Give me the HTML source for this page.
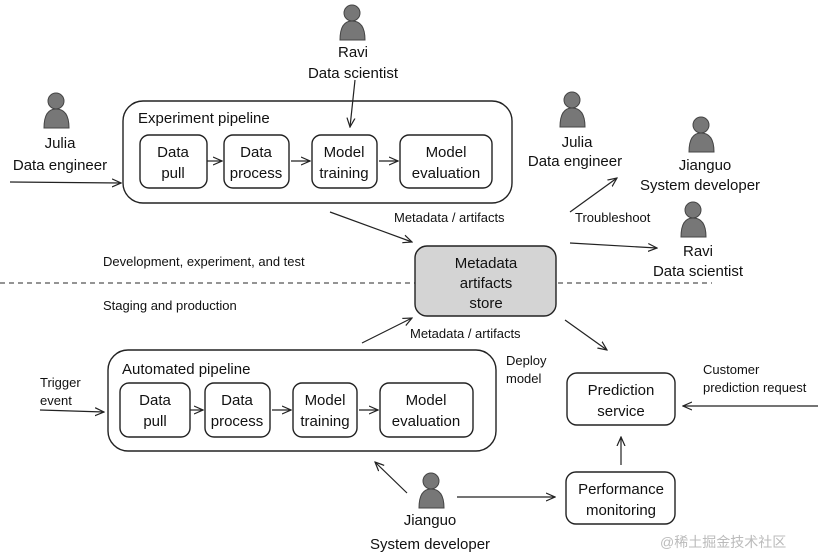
<!DOCTYPE html>
<html><head><meta charset="utf-8"><style>
body{margin:0;background:#fff}
svg{display:block}
.h{font-family:"Liberation Sans",sans-serif;font-size:15px;fill:#111;text-anchor:middle}
.s{font-family:"Liberation Sans",sans-serif;font-size:13px;fill:#111}
.b{fill:#fff;stroke:#222;stroke-width:1.4}
.a{stroke:#222;stroke-width:1.2;fill:none}
.p{fill:#777;stroke:#444;stroke-width:1}
</style></head><body>
<svg width="819" height="558" viewBox="0 0 819 558" xmlns="http://www.w3.org/2000/svg">
<defs><marker id="m" viewBox="0 0 10 10" refX="9" refY="5" markerWidth="10" markerHeight="10" orient="auto" markerUnits="userSpaceOnUse"><path d="M0,1 L9,5 L0,9" fill="none" stroke="#222" stroke-width="1.2"/></marker></defs>

<!-- persons -->
<g class="p">
<circle cx="352" cy="13" r="8"/><path d="M340,40 Q340,21 352,21 Q365,21 365,40 Z"/>
<circle cx="56" cy="101" r="8"/><path d="M44,128 Q44,109 56,109 Q69,109 69,128 Z"/>
<circle cx="572" cy="100" r="8"/><path d="M560,127 Q560,108 572,108 Q585,108 585,127 Z"/>
<circle cx="701" cy="125" r="8"/><path d="M689,152 Q689,133 701,133 Q714,133 714,152 Z"/>
<circle cx="693" cy="210" r="8"/><path d="M681,237 Q681,218 693,218 Q706,218 706,237 Z"/>
<circle cx="431" cy="481" r="8"/><path d="M419,508 Q419,489 431,489 Q444,489 444,508 Z"/>
</g>
<text class="h" x="353" y="57">Ravi</text><text class="h" x="353" y="78">Data scientist</text>
<text class="h" x="60" y="148">Julia</text><text class="h" x="60" y="170">Data engineer</text>
<text class="h" x="577" y="147">Julia</text><text class="h" x="575" y="166">Data engineer</text>
<text class="h" x="705" y="170">Jianguo</text><text class="h" x="700" y="190">System developer</text>
<text class="h" x="698" y="256">Ravi</text><text class="h" x="698" y="276">Data scientist</text>
<text class="h" x="430" y="525">Jianguo</text><text class="h" x="430" y="549">System developer</text>

<!-- dashed line -->
<line x1="0" y1="283" x2="712" y2="283" stroke="#555" stroke-width="1.2" stroke-dasharray="5,4"/>

<!-- experiment pipeline -->
<rect class="b" x="123" y="101" width="389" height="102" rx="20"/>
<text class="h" x="138" y="123" style="text-anchor:start">Experiment pipeline</text>
<rect class="b" x="140" y="135" width="67" height="53" rx="9"/><text class="h" x="173" y="157">Data</text><text class="h" x="173" y="178">pull</text>
<rect class="b" x="224" y="135" width="65" height="53" rx="9"/><text class="h" x="256" y="157">Data</text><text class="h" x="256" y="178">process</text>
<rect class="b" x="312" y="135" width="65" height="53" rx="9"/><text class="h" x="344" y="157">Model</text><text class="h" x="344" y="178">training</text>
<rect class="b" x="400" y="135" width="92" height="53" rx="9"/><text class="h" x="446" y="157">Model</text><text class="h" x="446" y="178">evaluation</text>
<line class="a" x1="207" y1="161" x2="222" y2="161" marker-end="url(#m)"/>
<line class="a" x1="291" y1="161" x2="310" y2="161" marker-end="url(#m)"/>
<line class="a" x1="379" y1="161" x2="398" y2="161" marker-end="url(#m)"/>

<!-- automated pipeline -->
<rect class="b" x="108" y="350" width="388" height="101" rx="20"/>
<text class="h" x="122" y="374" style="text-anchor:start">Automated pipeline</text>
<rect class="b" x="120" y="383" width="70" height="54" rx="9"/><text class="h" x="155" y="405">Data</text><text class="h" x="155" y="426">pull</text>
<rect class="b" x="205" y="383" width="65" height="54" rx="9"/><text class="h" x="237" y="405">Data</text><text class="h" x="237" y="426">process</text>
<rect class="b" x="293" y="383" width="64" height="54" rx="9"/><text class="h" x="325" y="405">Model</text><text class="h" x="325" y="426">training</text>
<rect class="b" x="380" y="383" width="93" height="54" rx="9"/><text class="h" x="426" y="405">Model</text><text class="h" x="426" y="426">evaluation</text>
<line class="a" x1="190" y1="410" x2="203" y2="410" marker-end="url(#m)"/>
<line class="a" x1="272" y1="410" x2="291" y2="410" marker-end="url(#m)"/>
<line class="a" x1="359" y1="410" x2="378" y2="410" marker-end="url(#m)"/>

<!-- metadata store -->
<rect x="415" y="246" width="141" height="70" rx="12" fill="#d4d4d4" stroke="#222" stroke-width="1.4"/>
<text class="h" x="486" y="268">Metadata</text><text class="h" x="486" y="288">artifacts</text><text class="h" x="486" y="308">store</text>

<rect class="b" x="567" y="373" width="108" height="52" rx="10"/><text class="h" x="621" y="395">Prediction</text><text class="h" x="621" y="416">service</text>
<rect class="b" x="566" y="472" width="109" height="52" rx="10"/><text class="h" x="621" y="494">Performance</text><text class="h" x="621" y="515">monitoring</text>

<!-- labels -->
<text class="s" x="394" y="222">Metadata / artifacts</text>
<text class="s" x="575" y="222">Troubleshoot</text>
<text class="s" x="103" y="266">Development, experiment, and test</text>
<text class="s" x="103" y="310">Staging and production</text>
<text class="s" x="410" y="338">Metadata / artifacts</text>
<text class="s" x="506" y="365">Deploy</text><text class="s" x="506" y="383">model</text>
<text class="s" x="40" y="387">Trigger</text><text class="s" x="40" y="405">event</text>
<text class="s" x="703" y="374">Customer</text><text class="s" x="703" y="392">prediction request</text>
<text x="660" y="547" style="font-family:'Liberation Sans','Noto Sans CJK SC',sans-serif;font-size:14px;fill:#bbb">@稀土掘金技术社区</text>

<!-- arrows -->
<line class="a" x1="10" y1="182" x2="121" y2="183" marker-end="url(#m)"/>
<line class="a" x1="355" y1="80" x2="350" y2="127" marker-end="url(#m)"/>
<line class="a" x1="330" y1="212" x2="412" y2="242" marker-end="url(#m)"/>
<line class="a" x1="570" y1="212" x2="617" y2="178" marker-end="url(#m)"/>
<line class="a" x1="570" y1="243" x2="657" y2="248" marker-end="url(#m)"/>
<line class="a" x1="362" y1="343" x2="412" y2="318" marker-end="url(#m)"/>
<line class="a" x1="565" y1="320" x2="607" y2="350" marker-end="url(#m)"/>
<line class="a" x1="818" y1="406" x2="683" y2="406" marker-end="url(#m)"/>
<line class="a" x1="621" y1="465" x2="621" y2="437" marker-end="url(#m)"/>
<line class="a" x1="457" y1="497" x2="555" y2="497" marker-end="url(#m)"/>
<line class="a" x1="407" y1="493" x2="375" y2="462" marker-end="url(#m)"/>
<line class="a" x1="40" y1="410" x2="104" y2="412" marker-end="url(#m)"/>
</svg>
</body></html>
